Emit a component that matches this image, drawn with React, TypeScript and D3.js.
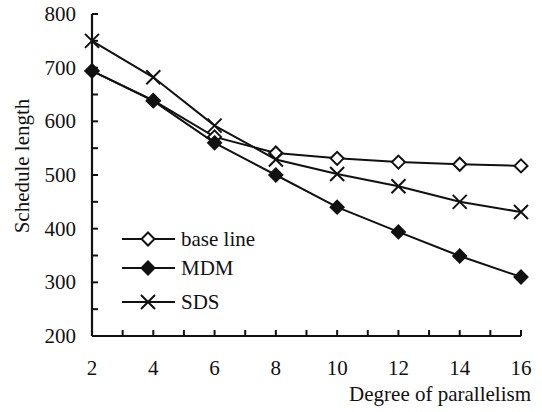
import React from "react";
import * as d3 from "d3";

const degrees = [2, 4, 6, 8, 10, 12, 14, 16];
const baseLine = [694, 639, 571, 541, 531, 524, 520, 517];
const mdm = [694, 638, 560, 500, 440, 394, 349, 310];
const sds = [750, 682, 592, 529, 502, 479, 450, 431];
const yTicks = [200, 300, 400, 500, 600, 700, 800];
const xTicks = [2, 4, 6, 8, 10, 12, 14, 16];

const W = 542, H = 412;
const font = "Liberation Serif";
const FS = 21;

function Marker({ type, x, y }: { type: string; x: number; y: number }) {
  if (type === "x") {
    const s = 7;
    return (
      <path d={`M${x - s},${y - s}L${x + s},${y + s}M${x - s},${y + s}L${x + s},${y - s}`} stroke="#111" strokeWidth={2} fill="none" />
    );
  }
  const s = 6.5;
  const d = `M${x},${y - s}L${x + s},${y}L${x},${y + s}L${x - s},${y}Z`;
  return <path d={d} stroke="#111" strokeWidth={2} fill={type === "filled" ? "#111" : "#fff"} />;
}

export default function App() {
  const x = d3.scaleLinear().domain([2, 16]).range([92, 521]);
  const y = d3.scaleLinear().domain([200, 800]).range([336, 14]);
  const line = d3.line<number>().x((_, i) => x(degrees[i])).y((d) => y(d));
  const series = [
    { name: "base line", vals: baseLine, type: "open" },
    { name: "MDM", vals: mdm, type: "filled" },
    { name: "SDS", vals: sds, type: "x" },
  ];
  const minorX = d3.range(2, 17, 1);
  const minorY = d3.range(200, 801, 50);
  const legendY = [239, 268, 302];
  const ts: React.CSSProperties = { fontFamily: font };
  return (
    <svg width={W} height={H} style={{ position: "absolute", left: 0, top: 0, background: "#fff" }}>
      {series.map((s) => (
        <g key={s.name}>
          <path d={line(s.vals) || ""} fill="none" stroke="#111" strokeWidth={2} />
          {s.vals.map((v, i) => (
            <Marker key={i} type={s.type} x={x(degrees[i])} y={y(v)} />
          ))}
        </g>
      ))}
      <line x1={x(2)} x2={x(2)} y1={y(800)} y2={y(200)} stroke="#111" strokeWidth={2.2} />
      <line x1={x(2)} x2={x(16)} y1={y(200)} y2={y(200)} stroke="#111" strokeWidth={2.2} />
      {minorY.map((t) => (
        <line key={t} x1={x(2)} x2={x(2) + 6} y1={y(t)} y2={y(t)} stroke="#111" strokeWidth={2} />
      ))}
      {minorX.map((t) => (
        <line key={t} x1={x(t)} x2={x(t)} y1={y(200)} y2={y(200) - 6} stroke="#111" strokeWidth={2} />
      ))}
      {yTicks.map((t) => (
        <text key={t} x={76} y={y(t) + 7} textAnchor="end" fontSize={FS} fill="#111" style={ts}>{t}</text>
      ))}
      {xTicks.map((t) => (
        <text key={t} x={x(t)} y={375} textAnchor="middle" fontSize={FS} fill="#111" style={ts}>{t}</text>
      ))}
      <text x={531} y={401} textAnchor="end" fontSize={FS} fill="#111" style={ts}>Degree of parallelism</text>
      <text transform={`translate(29,166) rotate(-90)`} textAnchor="middle" fontSize={FS} fill="#111" style={ts}>Schedule length</text>
      {series.map((s, i) => (
        <g key={s.name}>
          <line x1={122} x2={175} y1={legendY[i]} y2={legendY[i]} stroke="#111" strokeWidth={2} />
          <Marker type={s.type} x={148} y={legendY[i]} />
          <text x={181} y={legendY[i] + 7} fontSize={FS} fill="#111" style={ts}>{s.name}</text>
        </g>
      ))}
    </svg>
  );
}
